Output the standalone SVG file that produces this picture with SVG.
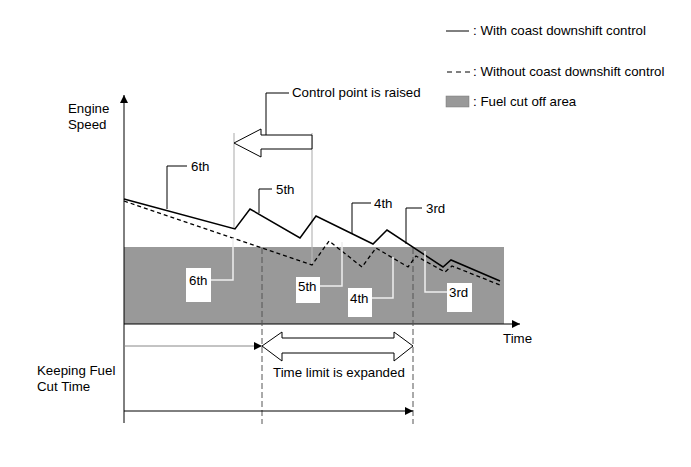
<svg xmlns="http://www.w3.org/2000/svg" width="691" height="467" viewBox="0 0 691 467">
<defs>
<style>
text{font-family:"Liberation Sans",Arial,sans-serif;font-size:13.3px;fill:#000}
.ln{fill:none;stroke:#000;stroke-width:1}
.curve{fill:none;stroke:#000;stroke-width:1.5}
.dash{fill:none;stroke:#000;stroke-width:1.3;stroke-dasharray:4,3}
.guide{fill:none;stroke:#b8b8b8;stroke-width:1.2}
.vdash{fill:none;stroke:#555;stroke-width:1;stroke-dasharray:6,3}
.lead{fill:none;stroke:#000;stroke-width:1}
.wlead{fill:none;stroke:#eee;stroke-width:1.5}
.box{fill:#fff;stroke:none}
.hollow{fill:#fff;stroke:#000;stroke-width:1}
</style>
<marker id="ah" viewBox="0 0 10 10" refX="10" refY="5" markerWidth="12" markerHeight="8" markerUnits="userSpaceOnUse" orient="auto">
<path d="M0,0 L10,5 L0,10 Z" fill="#000"/>
</marker>
</defs>
<rect width="691" height="467" fill="#fff"/>

<g id="fuel-cut-area">
<rect x="124" y="247" width="380" height="77" fill="#999"/>
</g>

<g id="legend">
<line x1="446" y1="31" x2="469" y2="31" class="ln"/>
<text x="473" y="35">: With coast downshift control</text>
<line x1="447" y1="72" x2="470" y2="72" class="ln" stroke-dasharray="5,4"/>
<text x="473" y="76">: Without coast downshift control</text>
<rect x="446" y="96" width="23" height="11" fill="#999" stroke="#777" stroke-width="0.5"/>
<text x="473" y="106">: Fuel cut off area</text>
</g>

<g id="axes">
<line x1="124" y1="423" x2="124" y2="95" class="ln" marker-end="url(#ah)"/>
<line x1="124" y1="324" x2="520" y2="324" class="ln" marker-end="url(#ah)"/>
<text x="68" y="113">Engine</text>
<text x="68" y="129">Speed</text>
<text x="503" y="343">Time</text>
<text x="37" y="375">Keeping Fuel</text>
<text x="37" y="391">Cut Time</text>
</g>

<g id="connectors">
<line x1="234" y1="133" x2="234" y2="229" class="guide"/>
<line x1="312" y1="133" x2="312" y2="265" class="guide"/>
<line x1="262" y1="248" x2="262" y2="424" class="vdash"/>
<line x1="413" y1="248" x2="413" y2="424" class="vdash"/>
<line x1="124" y1="346" x2="262" y2="346" stroke="#888" stroke-width="1" marker-end="url(#ah)"/>
<line x1="124" y1="411" x2="413" y2="411" class="ln" marker-end="url(#ah)"/>
</g>

<g id="speed-without">
<polyline class="dash" points="124,201 312,265 329,241 362,267 376,248 408,267 416,256 445,272 452,266 500,285"/>
</g>
<g id="speed-with">
<polyline class="curve" points="124,199 235,229 250,209 300,238 316,216 373,244 387,230 443,267 451,260 500,281"/>
</g>

<g id="control-point-arrow">
<path class="hollow" d="M234,143 L261,129 L261,135 L312,135 L312,149 L261,149 L261,157 Z"/>
<polyline class="lead" points="266,135 266,93 289,93"/>
<text x="292" y="97">Control point is raised</text>
</g>

<g id="time-limit-arrow">
<path class="hollow" d="M262,346 L282,332 L282,338 L394,338 L394,332 L413,346 L394,361 L394,353 L282,353 L282,361 Z"/>
<text x="273" y="377">Time limit is expanded</text>
</g>

<g id="label-6th-top">
<polyline class="lead" points="167,209 167,166 187,166"/>
<text x="191" y="171">6th</text>
</g>
<g id="label-5th-top">
<polyline class="lead" points="259,213 259,189 272,189"/>
<text x="276" y="194">5th</text>
</g>
<g id="label-4th-top">
<polyline class="lead" points="352,234 352,203 371,203"/>
<text x="374" y="208">4th</text>
</g>
<g id="label-3rd-top">
<polyline class="lead" points="406,244 406,208 422,208"/>
<text x="426" y="213">3rd</text>
</g>

<g id="label-6th-bottom">
<polyline class="wlead" points="211,280 233,280 233,238"/>
<rect class="box" x="186" y="268" width="25" height="34"/>
<text x="189" y="285">6th</text>
</g>
<g id="label-5th-bottom">
<polyline class="wlead" points="320,286 342,286 342,242"/>
<rect class="box" x="296" y="277" width="24" height="26"/>
<text x="298" y="291">5th</text>
</g>
<g id="label-4th-bottom">
<polyline class="wlead" points="372,298 393,298 393,257"/>
<rect class="box" x="348" y="288" width="24" height="29"/>
<text x="350" y="303">4th</text>
</g>
<g id="label-3rd-bottom">
<polyline class="wlead" points="447,292 425,292 425,251"/>
<rect class="box" x="447" y="283" width="25" height="29"/>
<text x="449" y="297">3rd</text>
</g>
</svg>
